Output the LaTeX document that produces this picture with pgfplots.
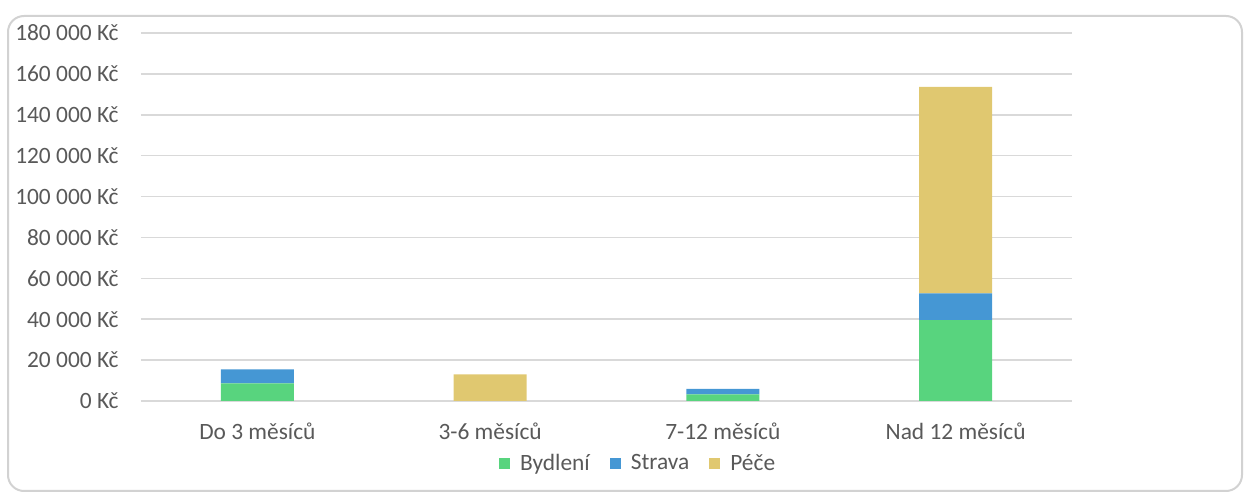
\documentclass[border=0pt]{standalone}
\usepackage{pgfplots}
\pgfplotsset{compat=1.18}
\usepackage{fontspec}
\setmainfont{Carlito}
\definecolor{cgreen}{RGB}{88,212,126}
\definecolor{cblue}{RGB}{69,151,212}
\definecolor{cyellow}{RGB}{224,200,112}
\definecolor{cgrid}{RGB}{217,217,217}
\definecolor{ctext}{RGB}{89,89,89}
\definecolor{cframe}{RGB}{210,210,210}
\newcommand\cf{\fontsize{11.7pt}{14pt}\selectfont}
\begin{document}
\begin{tikzpicture}
\useasboundingbox (0,0) rectangle (622pt,246.5pt);
\draw[cframe, line width=1pt, rounded corners=8pt] (4pt,1pt) rectangle (621pt,238.5pt);
\begin{axis}[
  at={(70.5pt,46pt)}, anchor=south west,
  scale only axis, width=465.5pt, height=184pt,
  ybar stacked, bar width=36.5pt,
  xmin=-0.5, xmax=3.5, ymin=0, ymax=180000,
  xtick={0,1,2,3},
  xticklabels={Do 3 měsíců,3-6 měsíců,7-12 měsíců,Nad 12 měsíců},
  ytick distance=20000,
  scaled y ticks=false,
  axis x line*=bottom, axis y line*=left,
  x axis line style={cgrid, line width=0.75pt, -},
  y axis line style={draw=none},
  ymajorgrids, grid style={cgrid, line width=0.75pt},
  major tick length=0pt,
  /pgf/number format/assume math mode=true,
  /pgf/number format/.cd, fixed, precision=0, 1000 sep={\ }, /pgfplots/.cd,
  yticklabel={\pgfmathprintnumber{\tick}\ Kč},
  yticklabel style={font=\cf, text=ctext, anchor=east, inner sep=0pt, xshift=-11pt},
  xticklabel style={font=\cf, text=ctext, anchor=base, inner sep=0pt, yshift=-19.5pt},
  tick style={draw=none},
  legend columns=3,
  legend style={at={(0.535,-0.17)}, anchor=center, draw=none, fill=none,
    font=\cf, text=ctext, inner sep=0pt,
    /tikz/every even column/.append style={column sep=8pt},
    /tikz/every odd column/.append style={column sep=3pt}},
  legend cell align=left,
  legend image code/.code={\fill[#1] (0pt,-2.75pt) rectangle (5.5pt,2.75pt);},
]
\addplot[fill=cgreen, draw=none] coordinates {(0,8600) (1,0) (2,3300) (3,39600)};
\addplot[fill=cblue, draw=none] coordinates {(0,6900) (1,0) (2,2600) (3,13100)};
\addplot[fill=cyellow, draw=none] coordinates {(0,0) (1,13000) (2,0) (3,101000)};
\legend{Bydlení,Strava,Péče}
\end{axis}
\end{tikzpicture}
\end{document}
